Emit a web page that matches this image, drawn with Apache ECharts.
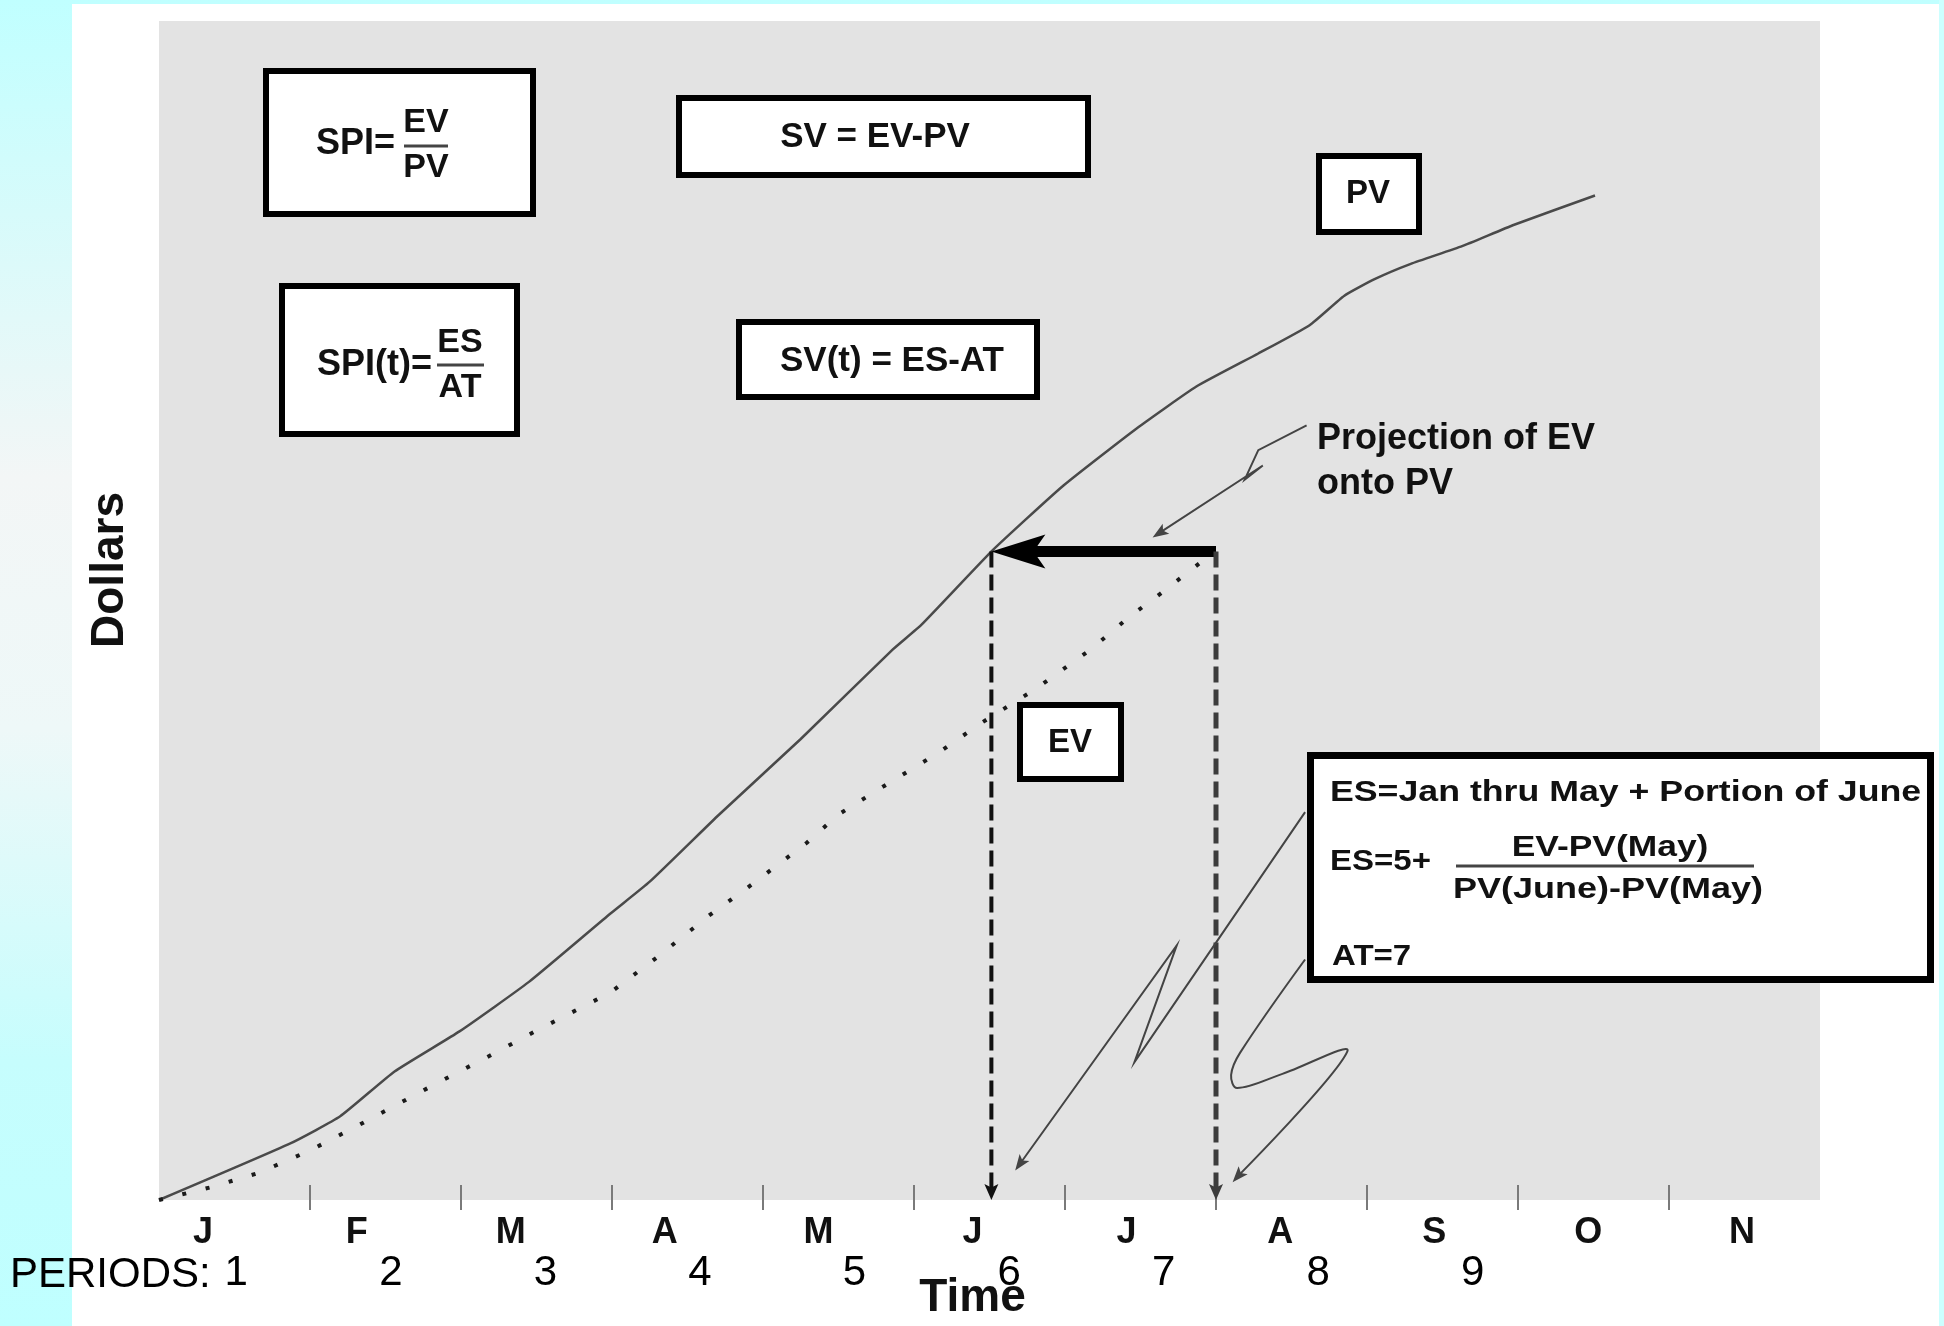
<!DOCTYPE html>
<html>
<head>
<meta charset="utf-8">
<title>Earned Schedule</title>
<script src="https://cdn.jsdelivr.net/npm/echarts@6/dist/echarts.min.js"></script>
<style>
  html, body { margin: 0; padding: 0; }
  body {
    width: 1944px; height: 1326px; overflow: hidden; position: relative;
    background: linear-gradient(to bottom, #c0ffff 0%, #f3f6f6 36%, #eef8f8 55%, #c6fdfd 80%, #bfffff 100%);
  }
  #panel { position: absolute; left: 72px; top: 4px; width: 1867px; height: 1322px; background: #fff; }
  #rstrip { position: absolute; left: 1939px; top: 0; width: 5px; height: 1326px; background: #ccffff; }
  #chart { position: absolute; left: 0; top: 0; width: 1944px; height: 1326px; }
</style>
</head>
<body>
<div id="panel"></div>
<div id="rstrip"></div>
<div id="chart"></div>
<script>
// axis labels
const monthLabels = ['J', 'F', 'M', 'A', 'M', 'J', 'J', 'A', 'S', 'O', 'N'];
const periodLabels = ['1', '2', '3', '4', '5', '6', '7', '8', '9'];

// planned value: [months elapsed, dollars]
const pvCurve = [
  [0, 0], [0.87, 4.8], [1.2, 7.1], [1.56, 10.9], [1.99, 14.3], [2.45, 18.5],
  [2.99, 24.3], [3.25, 27.0], [3.71, 32.7], [4.25, 39.1], [4.86, 46.7],
  [5.05, 48.8], [5.52, 55.1], [5.99, 60.6], [6.47, 65.4], [6.87, 69.0],
  [7.28, 71.8], [7.62, 74.2], [7.85, 76.7], [8.05, 78.1], [8.29, 79.4],
  [8.63, 80.9], [8.97, 82.7], [9.51, 85.2]
];

// earned value to date
const evCurve = [
  [0, 0], [0.35, 1.1], [0.66, 2.3], [1.0, 4.2], [1.33, 6.4], [1.81, 9.7],
  [2.17, 12.1], [2.49, 14.3], [2.99, 17.6], [3.3, 20.6], [3.64, 24.1],
  [3.93, 26.8], [4.29, 30.3], [4.5, 32.7], [4.8, 35.1], [5.17, 38.0],
  [5.45, 40.5], [5.8, 43.3], [6.17, 46.7], [6.42, 49.4], [6.64, 51.5],
  [6.94, 54.5], [7.0, 55.0]
];

const actualTime = 7;

// callout pointers, in chart units (months, dollars)
const projectionPointer = [[7.6, 65.7], [7.28, 63.6], [7.19, 61.1], [7.31, 62.3], [6.58, 56.2]];
const esPointer = [[7.59, 32.9], [6.46, 11.7], [6.74, 21.6], [5.67, 2.5]];
const atPointer = [[7.59, 20.4], [7.16, 12.5], [7.1, 10.6], [7.14, 9.5], [7.44, 10.7], [7.87, 12.6], [7.11, 1.5]];

// earned schedule = time at which PV reached today's EV
const evNow = evCurve[evCurve.length - 1][1];
function timeOnPV(value) {
  for (let i = 0; i < pvCurve.length - 1; i++) {
    const a = pvCurve[i], b = pvCurve[i + 1];
    if (value >= a[1] && value <= b[1]) {
      return a[0] + (value - a[1]) / (b[1] - a[1]) * (b[0] - a[0]);
    }
  }
  return pvCurve[pvCurve.length - 1][0];
}
const earnedSchedule = timeOnPV(evNow);

const arrows = [
  { path: [[actualTime, evNow], [earnedSchedule, evNow]], color: '#000', width: 11, head: [54, 17] },
  { path: [[earnedSchedule, evNow], [earnedSchedule, 0]], color: '#111', width: 4, dash: [16, 7], head: [16, 7] },
  { path: [[actualTime, evNow], [actualTime, 0]], color: '#3c3c3c', width: 5, dash: [16, 7], head: [16, 7] },
  { path: projectionPointer, color: '#444', width: 2, head: [16, 6] },
  { path: esPointer, color: '#444', width: 2, head: [16, 6] },
  { path: atPointer, color: '#444', width: 2, head: [16, 6], smooth: 0.35 }
];

const FONT = '"Liberation Sans", Arial, Helvetica, sans-serif';

function renderArrow(params, api) {
  const a = arrows[params.dataIndex];
  const pts = a.path.map(p => api.coord(p));
  const tip = pts[pts.length - 1];
  const prev = pts[pts.length - 2];
  let dx = tip[0] - prev[0], dy = tip[1] - prev[1];
  const len = Math.sqrt(dx * dx + dy * dy) || 1;
  dx /= len; dy /= len;
  const L = a.head[0], W = a.head[1];
  const bx = tip[0] - dx * L, by = tip[1] - dy * L;
  const nx = tip[0] - dx * L * 0.78, ny = tip[1] - dy * L * 0.78;
  const head = [tip, [bx - dy * W, by + dx * W], [nx, ny], [bx + dy * W, by - dx * W]];
  const linePts = pts.slice(0, -1).concat([[tip[0] - dx * L * 0.6, tip[1] - dy * L * 0.6]]);
  return {
    type: 'group',
    children: [
      {
        type: 'polyline',
        shape: { points: linePts, smooth: a.smooth || 0 },
        style: { stroke: a.color, lineWidth: a.width, fill: null, lineDash: a.dash || null }
      },
      { type: 'polygon', shape: { points: head }, style: { fill: a.color } }
    ]
  };
}

function box(x0, y0, x1, y1, lw) {
  lw = lw || 6;
  return {
    type: 'rect', z: 100,
    shape: { x: x0 + lw / 2, y: y0 + lw / 2, width: x1 - x0 - lw, height: y1 - y0 - lw },
    style: { fill: '#fff', stroke: '#000', lineWidth: lw }
  };
}
function label(text, x, y, size, align, opts) {
  opts = opts || {};
  return {
    type: 'text', z: 101, x: x, y: y,
    scaleX: opts.scaleX || 1, rotation: opts.rotation || 0,
    style: {
      text: text, x: 0, y: 0,
      font: (opts.weight || 'bold') + ' ' + size + 'px ' + FONT,
      fill: opts.color || '#111',
      textAlign: align, align: align,
      textVerticalAlign: 'middle', verticalAlign: 'middle'
    }
  };
}
function rule(x0, x1, y) {
  return { type: 'line', z: 101, shape: { x1: x0, y1: y, x2: x1, y2: y }, style: { stroke: '#444', lineWidth: 3 } };
}

const graphics = [
  box(263, 68, 536, 217),
  label('SPI=', 395, 144, 36, 'right'),
  label('EV', 426, 123, 34, 'center'),
  rule(404, 448, 146),
  label('PV', 426, 168, 34, 'center'),

  box(676, 95, 1091, 178),
  label('SV = EV-PV', 875, 137, 35, 'center'),

  box(279, 283, 520, 437),
  label('SPI(t)=', 432, 365, 36, 'right'),
  label('ES', 460, 343, 34, 'center'),
  rule(437, 484, 365),
  label('AT', 460, 388, 34, 'center'),

  box(736, 319, 1040, 400),
  label('SV(t) = ES-AT', 892, 361, 35, 'center'),

  box(1316, 153, 1422, 235),
  label('PV', 1368, 194, 33, 'center'),

  box(1017, 702, 1124, 782),
  label('EV', 1070, 743, 33, 'center'),

  label('Projection of EV', 1317, 439, 36, 'left'),
  label('onto PV', 1317, 484, 36, 'left'),

  box(1307, 752, 1934, 983, 7),
  label('ES=Jan thru May + Portion of June', 1330, 793, 30, 'left', { scaleX: 1.19 }),
  label('ES=5+', 1330, 862, 30, 'left', { scaleX: 1.1 }),
  label('EV-PV(May)', 1610, 848, 30, 'center', { scaleX: 1.18 }),
  rule(1456, 1754, 866),
  label('PV(June)-PV(May)', 1608, 890, 30, 'center', { scaleX: 1.2 }),
  label('AT=7', 1332, 957, 30, 'left', { scaleX: 1.1 }),

  label('Dollars', 110, 570, 46, 'center', { rotation: Math.PI / 2 }),
  label('PERIODS:', 10, 1275, 42, 'left', { weight: 'normal', color: '#000' })
];

const chart = echarts.init(document.getElementById('chart'), null, { renderer: 'canvas' });

const hiddenY = i => ({ gridIndex: i, type: 'value', min: 0, max: 100, show: false });

chart.setOption({
  animation: false,
  backgroundColor: 'transparent',
  grid: [
    { left: 159, right: 124, top: 21, bottom: 126, show: true, backgroundColor: '#e3e3e3', borderWidth: 0 },
    { left: 126, right: 125, top: 21, bottom: 126 },
    { left: 159, right: 394, top: 21, bottom: 126 }
  ],
  xAxis: [
    {
      gridIndex: 0, type: 'value', min: 0, max: 11, interval: 1, position: 'bottom', offset: -15,
      axisLine: { show: false },
      axisLabel: { show: false },
      splitLine: { show: false },
      axisTick: {
        show: true, inside: false, length: 25,
        customValues: [1, 2, 3, 4, 5, 6, 7, 8, 9, 10],
        lineStyle: { color: '#7a7a7a', width: 2 }
      }
    },
    {
      gridIndex: 1, type: 'category', data: monthLabels, boundaryGap: true,
      axisLine: { show: false }, axisTick: { show: false },
      axisLabel: { interval: 0, margin: 16, color: '#111', fontSize: 36, fontWeight: 'bold', fontFamily: FONT },
      name: 'Time', nameLocation: 'middle', nameGap: 76,
      nameTextStyle: { color: '#111', fontSize: 46, fontWeight: 'bold', fontFamily: FONT }
    },
    {
      gridIndex: 2, type: 'category', data: periodLabels, boundaryGap: true,
      axisLine: { show: false }, axisTick: { show: false },
      axisLabel: { interval: 0, margin: 52, color: '#000', fontSize: 42, fontFamily: FONT }
    }
  ],
  yAxis: [hiddenY(0), hiddenY(1), hiddenY(2)],
  graphic: graphics,
  series: [
    {
      name: 'PV', type: 'line', xAxisIndex: 0, yAxisIndex: 0,
      data: pvCurve, showSymbol: false, smooth: 0.15,
      lineStyle: { color: '#4a4a4a', width: 2.5 }, z: 3
    },
    {
      name: 'EV', type: 'line', xAxisIndex: 0, yAxisIndex: 0,
      data: evCurve, showSymbol: false,
      lineStyle: { color: '#1a1a1a', width: 4, type: [4, 20] }, z: 3
    },
    {
      name: 'Arrows', type: 'custom', xAxisIndex: 0, yAxisIndex: 0,
      data: arrows.map((a, i) => [i]),
      renderItem: renderArrow, z: 4, silent: true
    }
  ]
});
</script>
</body>
</html>
